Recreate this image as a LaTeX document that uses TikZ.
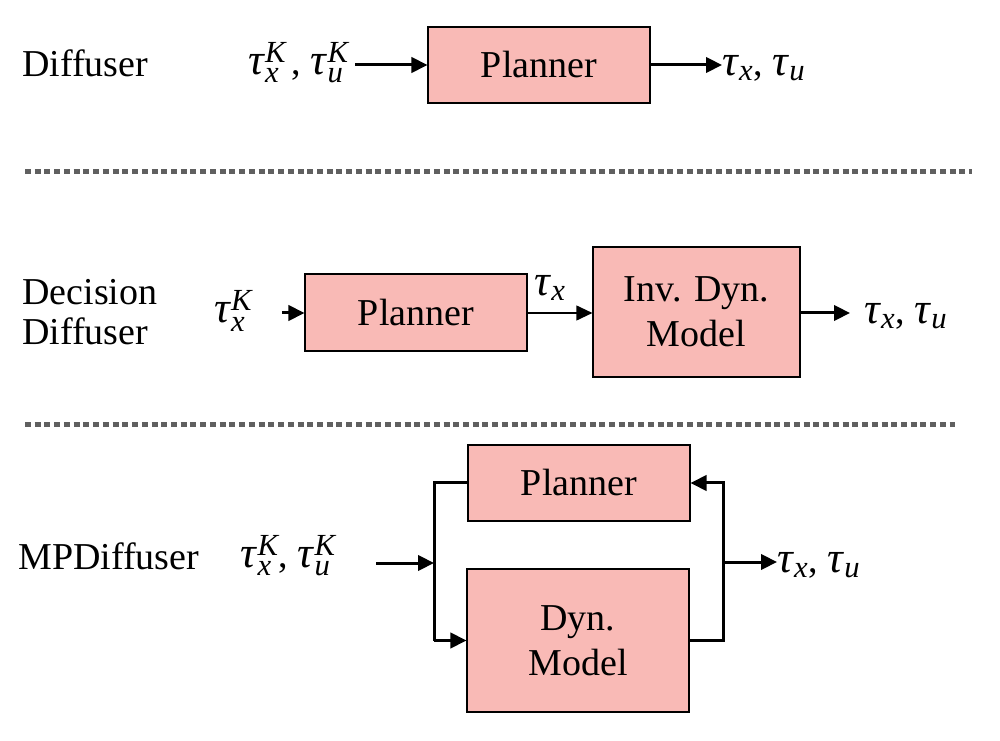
\documentclass[tikz,border=0pt]{standalone}
\usepackage{amsmath}
\usepackage{graphicx}
\usepackage{fontspec}
\setmainfont{Liberation Serif}
\usetikzlibrary{arrows.meta}
\DeclareMathSizes{28.5}{28.5}{23}{18}
\definecolor{boxfill}{HTML}{F9BAB6}
\definecolor{sepgray}{HTML}{606060}
\newcommand{\mytau}{\scalebox{1.15}{\textit{τ}}}
\newcommand{\tauv}[1]{\mytau_{\textit{#1}}}
\newcommand{\tauk}[1]{\mytau^{\textit{K}}_{\textit{#1}}}
\begin{document}
\begin{tikzpicture}[x=0.75pt,y=-0.75pt,
  every node/.style={font=\fontsize{28.5}{34}\selectfont},
  blk/.style={draw=black,line width=0.8pt,fill=boxfill,inner sep=0pt,align=center},
  lbl/.style={inner sep=0pt},
  arr/.style={line width=2.25pt,-{Triangle[length=12pt,width=11.5pt]}},
  thinarr/.style={line width=1.5pt,-{Triangle[length=12pt,width=11pt]}},
  ln/.style={line width=2.25pt},
  sep/.style={draw=sepgray,line width=3.75pt,dash pattern=on 4.5pt off 2.8pt}]
\useasboundingbox (0,0) rectangle (1000,741);

% ---------- Diffuser ----------
\node[lbl,anchor=west] (t1) at (22,63) {Diffuser};
\node[blk,minimum width=222*0.75pt,minimum height=76*0.75pt] (p1) at (539,65) {Planner};
\node[lbl,anchor=east] (in1) at (349,63) {$\tauk{x}\,$, $\tauk{u}$};
\node[lbl,anchor=west] (out1) at (722,68) {$\tauv{x}$, $\tauv{u}$};
\coordinate (s1) at (355,65);
\draw[arr] (s1) -- (p1.west);
\draw[arr] (p1.east) -- (out1.west|-p1.east);

\draw[sep] (25,172) -- (972,172);

% ---------- Decision Diffuser ----------
\node[lbl,anchor=west,align=left,font=\fontsize{28.5}{30}\selectfont] (t2) at (22,312) {Decision\\Diffuser};
\node[blk,minimum width=222*0.75pt,minimum height=77*0.75pt] (p2) at (416,312.5) {Planner};
\node[blk,minimum width=207*0.75pt,minimum height=130*0.75pt] (m2) at (696.5,312) {Inv. Dyn.\\Model};
\node[lbl,anchor=west] (in2) at (214,311) {$\tauk{x}$};
\node[lbl] (tx2) at (550,288) {$\tauv{x}$};
\node[lbl,anchor=west] (out2) at (864,316) {$\tauv{x}$, $\tauv{u}$};
\coordinate (s2) at (282,313);
\draw[arr] (s2) -- (p2.west|-s2);
\draw[thinarr] (p2.east|-s2) -- (m2.west|-s2);
\coordinate (e2) at (850,313);
\draw[arr] (m2.east|-s2) -- (e2);

\draw[sep] (25,425) -- (955,425);

% ---------- MPDiffuser ----------
\node[lbl,anchor=west] (t3) at (18,556) {MPDiffuser};
\node[blk,minimum width=222*0.75pt,minimum height=76*0.75pt] (p3) at (579,483) {Planner};
\node[blk,minimum width=222*0.75pt,minimum height=143*0.75pt] (d3) at (578,640.5) {Dyn.\\Model};
\node[lbl,anchor=east] (in3) at (336,556) {$\tauk{x}$, $\tauk{u}$};
\node[lbl,anchor=west] (out3) at (777,565) {$\tauv{x}$, $\tauv{u}$};
\coordinate (s3) at (376,563);
\coordinate (j1) at (434,563);
\coordinate (j2) at (723,562);
\draw[arr] (s3) -- (j1);
\draw[ln] (p3.west) -- ++(-33,0) coordinate (a3) -- (a3|-d3.west);
\draw[arr] (a3|-d3.west) -- (d3.west);
\draw[ln] (d3.east) -| (j2);
\draw[arr] (d3.east) ++(34,0) |- (p3.east);
\draw[arr] (j2) -- (out3.west|-j2);
\end{tikzpicture}
\end{document}
